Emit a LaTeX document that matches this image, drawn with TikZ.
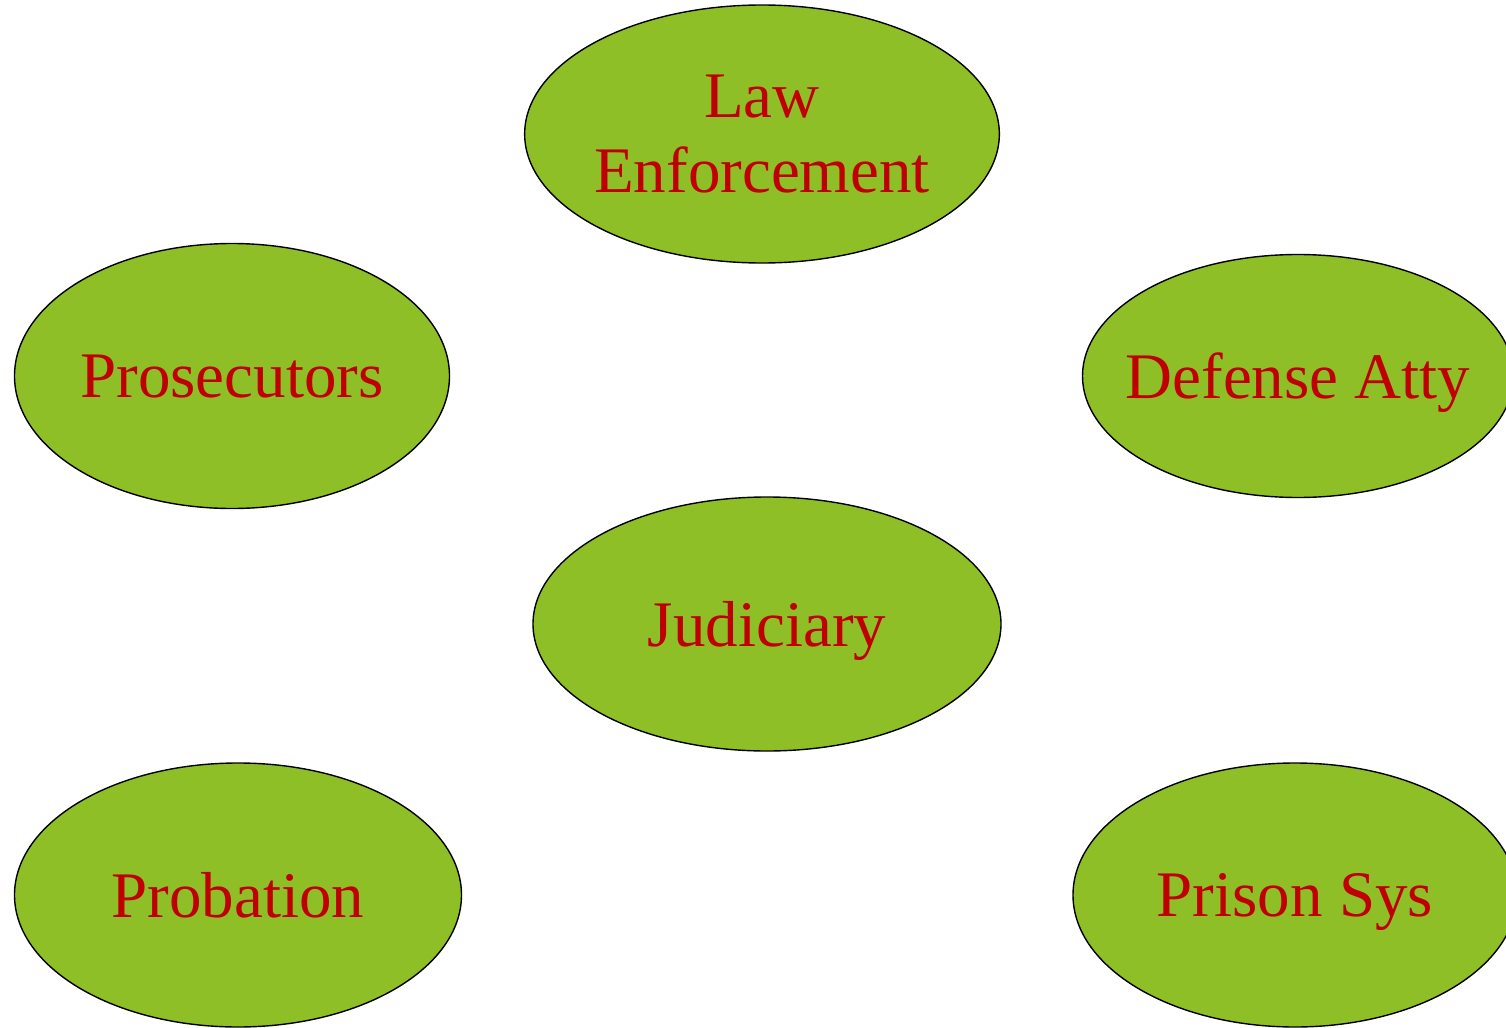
\documentclass[tikz,border=0pt]{standalone}
\usepackage{fontspec}
\setmainfont{Liberation Serif}
\usetikzlibrary{shapes.geometric}
\definecolor{leaf}{RGB}{143,191,38}
\definecolor{ink}{RGB}{192,0,0}

\begin{document}
\begin{tikzpicture}[x=0.5pt, y=-0.5pt,
	main/.style = {draw, line width=0.7pt, ellipse, fill=leaf, text=ink, inner sep=0pt,
		text depth=0pt, font=\fontsize{32.5}{37.5}\selectfont, align=center}]
	\useasboundingbox (0,0) rectangle (1506,1028);
	\node[main, minimum width=235pt, minimum height=129pt] (law) at (762,134) {Law\\Enforcement};
	\node[main, minimum width=217.5pt, minimum height=132.5pt] (pros) at (232,376) {Prosecutors};
	\node[main, inner xsep=-10pt, minimum width=213pt, minimum height=121.5pt] (def) at (1298,376) {Defense Atty};
	\node[main, minimum width=234pt, minimum height=127pt] (jud) at (767,624) {Judiciary};
	\node[main, minimum width=223.5pt, minimum height=132pt] (prob) at (238,895) {Probation};
	\node[main, minimum width=222pt, minimum height=132pt] (prison) at (1295,895) {Prison Sys};
\end{tikzpicture}
\end{document}
